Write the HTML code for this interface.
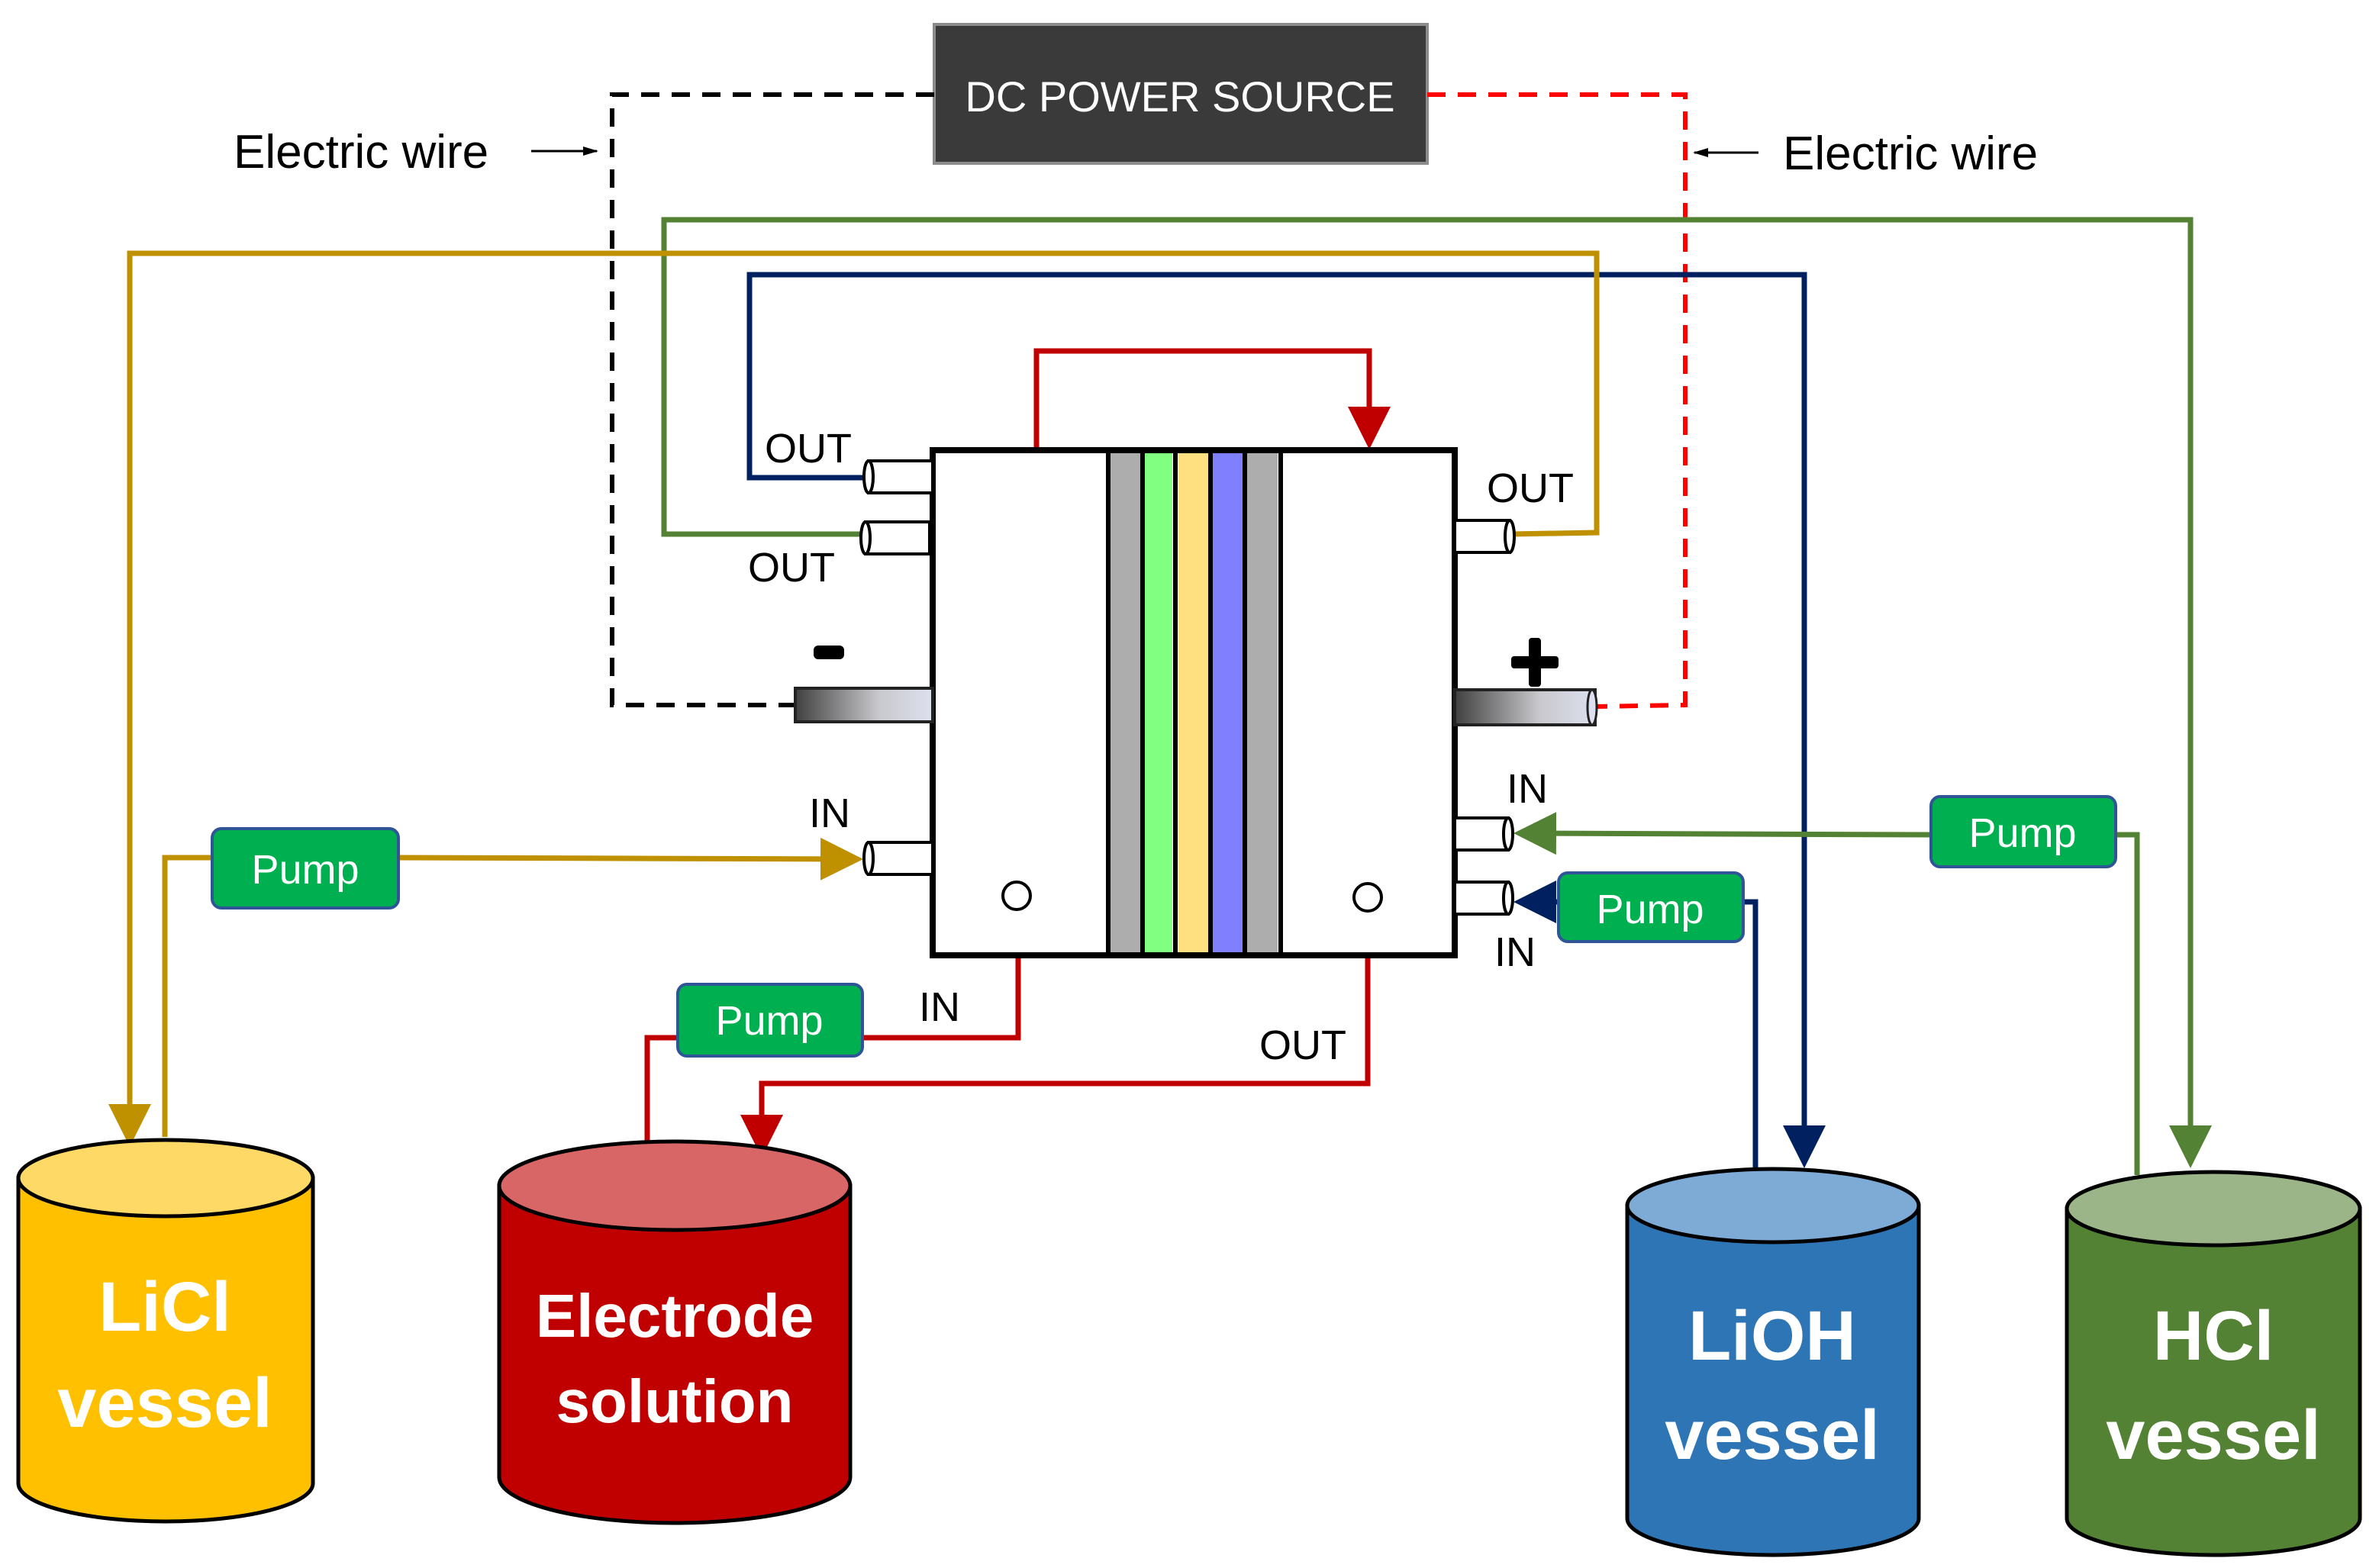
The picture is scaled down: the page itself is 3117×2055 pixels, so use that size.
<!DOCTYPE html>
<html><head><meta charset="utf-8"><style>html,body{margin:0;padding:0;background:#fff}svg{display:block}text{font-family:"Liberation Sans",sans-serif}</style></head>
<body>
<svg width="3117" height="2055" viewBox="0 0 1558.5 1027.5" xmlns="http://www.w3.org/2000/svg">
<defs>
<linearGradient id="ge" x1="0" x2="1"><stop offset="0" stop-color="#404040"/><stop offset="0.6" stop-color="#c8c8cc"/><stop offset="1" stop-color="#dde0ee"/></linearGradient>
<marker id="aN" markerWidth="8" markerHeight="8" refX="7" refY="4" orient="auto" markerUnits="strokeWidth"><path d="M0,0L8,4L0,8z" fill="#002060"/></marker>
<marker id="aG" markerWidth="8" markerHeight="8" refX="7" refY="4" orient="auto" markerUnits="strokeWidth"><path d="M0,0L8,4L0,8z" fill="#548235"/></marker>
<marker id="aY" markerWidth="8" markerHeight="8" refX="7" refY="4" orient="auto" markerUnits="strokeWidth"><path d="M0,0L8,4L0,8z" fill="#bf9000"/></marker>
<marker id="aR" markerWidth="8" markerHeight="8" refX="7" refY="4" orient="auto" markerUnits="strokeWidth"><path d="M0,0L8,4L0,8z" fill="#c00000"/></marker>
<marker id="aK" markerWidth="10" markerHeight="8" refX="9" refY="4" orient="auto" markerUnits="userSpaceOnUse"><path d="M0,1L10,4L0,7z" fill="#000"/></marker>
</defs>

<rect x="612" y="16" width="323" height="91" fill="#3a3a3a" stroke="#8c8c8c" stroke-width="2"/>
<text x="773" y="73" font-size="28" fill="#fff" text-anchor="middle">DC POWER SOURCE</text>
<polyline points="612,62 401,62 401,462 520,462" fill="none" stroke="#000" stroke-width="3" stroke-dasharray="12,8"/>
<polyline points="935,62 1104,62 1104,462 1045,463" fill="none" stroke="#ff0000" stroke-width="3" stroke-dasharray="12,8"/>
<text x="153" y="110" font-size="31" fill="#000">Electric wire</text>
<line x1="348" y1="99" x2="391" y2="99" stroke="#000" stroke-width="1.5" marker-end="url(#aK)"/>
<text x="1168" y="111" font-size="31" fill="#000">Electric wire</text>
<line x1="1152" y1="100" x2="1110" y2="100" stroke="#000" stroke-width="1.5" marker-end="url(#aK)"/>

<g fill="none" stroke-width="3.5">
<polyline points="567,313 491,313 491,180 1182,180 1182,762" stroke="#002060" marker-end="url(#aN)"/>
<polyline points="1150,768 1150,591 1143,591" stroke="#002060"/>
<line x1="1021" y1="591" x2="995" y2="591" stroke="#002060" marker-end="url(#aN)"/>
<polyline points="611,350 435,350 435,144 1435,144 1435,762" stroke="#548235" marker-end="url(#aG)"/>
<polyline points="1386,547 1400,547 1400,770" stroke="#548235"/>
<line x1="1265" y1="547" x2="995" y2="546" stroke="#548235" marker-end="url(#aG)"/>
<polyline points="990,350 1046,349 1046,166 85,166 85,748" stroke="#bf9000" marker-end="url(#aY)"/>
<polyline points="108,745 108,562 139,562" stroke="#bf9000"/>
<line x1="261" y1="562" x2="562" y2="563" stroke="#bf9000" marker-end="url(#aY)"/>
<polyline points="679,295 679,230 897,230 897,291" stroke="#c00000" marker-end="url(#aR)"/>
<polyline points="424,753 424,680 444,680" stroke="#c00000"/>
<polyline points="565,680 667,680 667,600" stroke="#c00000" marker-end="url(#aR)"/>
<polyline points="896,597 896,710 499,710 499,755" stroke="#c00000" marker-end="url(#aR)"/>
</g>

<rect x="611" y="295" width="342" height="331" fill="#fff" stroke="#000" stroke-width="4"/>
<rect x="727" y="297" width="20" height="327" fill="#adadad"/>
<rect x="750" y="297" width="18" height="327" fill="#80ff80"/>
<rect x="772" y="297" width="20" height="327" fill="#ffe080"/>
<rect x="794" y="297" width="20" height="327" fill="#8080ff"/>
<rect x="817" y="297" width="20" height="327" fill="#adadad"/>
<g stroke="#000" stroke-width="3">
<line x1="726" y1="297" x2="726" y2="624"/><line x1="748.5" y1="297" x2="748.5" y2="624"/>
<line x1="770" y1="297" x2="770" y2="624"/><line x1="793" y1="297" x2="793" y2="624"/>
<line x1="815.5" y1="297" x2="815.5" y2="624"/><line x1="839" y1="297" x2="839" y2="624"/>
</g>
<circle cx="666" cy="587" r="9" fill="#fff" stroke="#000" stroke-width="2"/>
<circle cx="896" cy="588" r="9" fill="#fff" stroke="#000" stroke-width="2"/>

<g fill="#fff" stroke="#000" stroke-width="2">
<rect x="569" y="302" width="42" height="21"/><ellipse cx="569" cy="312.5" rx="3" ry="10.5"/>
<rect x="567" y="342" width="42" height="21"/><ellipse cx="567" cy="352.5" rx="3" ry="10.5"/>
<rect x="569" y="552" width="42" height="21"/><ellipse cx="569" cy="562.5" rx="3" ry="10.5"/>
<rect x="953" y="341" width="36" height="21"/><ellipse cx="989" cy="351.5" rx="3" ry="10.5"/>
<rect x="953" y="536" width="35" height="21"/><ellipse cx="988" cy="546.5" rx="3" ry="10.5"/>
<rect x="953" y="578" width="35" height="21"/><ellipse cx="988" cy="588.5" rx="3" ry="10.5"/>
</g>
<rect x="521" y="451" width="90" height="22" fill="url(#ge)" stroke="#222" stroke-width="2"/>
<rect x="953" y="452" width="92" height="23" fill="url(#ge)" stroke="#222" stroke-width="2"/>
<ellipse cx="1043" cy="463.5" rx="3" ry="11.5" fill="#dde0ee" stroke="#222" stroke-width="1.5"/>

<g font-size="27" fill="#000">
<text x="501" y="303">OUT</text><text x="490" y="381">OUT</text>
<text x="530" y="542">IN</text><text x="602" y="669">IN</text>
<text x="974" y="329">OUT</text><text x="987" y="526">IN</text>
<text x="979" y="633">IN</text><text x="825" y="694">OUT</text>
</g>
<rect x="533" y="423" width="20" height="9" rx="3" fill="#000"/>
<rect x="990" y="430" width="31" height="8" rx="2" fill="#000"/>
<rect x="1001.5" y="418" width="8" height="32" rx="2" fill="#000"/>

<g fill="#00b050" stroke="#2f5597" stroke-width="2">
<rect x="139" y="543" width="122" height="52" rx="6"/>
<rect x="444" y="645" width="121" height="47" rx="6"/>
<rect x="1265" y="522" width="121" height="46" rx="6"/>
<rect x="1021" y="572" width="121" height="45" rx="6"/>
</g>
<g font-size="27" fill="#fff" text-anchor="middle">
<text x="200" y="579">Pump</text><text x="504" y="678">Pump</text>
<text x="1325" y="555">Pump</text><text x="1081" y="605">Pump</text>
</g>

<g stroke="#000" stroke-width="2.5">
<path d="M12,772 L12,972 A96.5,25 0 0 0 205,972 L205,772 Z" fill="#ffc000"/>
<ellipse cx="108.5" cy="772" rx="96.5" ry="25" fill="#ffd966"/>
<path d="M327,777 L327,968 A115,30 0 0 0 557,968 L557,777 Z" fill="#c00000"/>
<ellipse cx="442" cy="777" rx="115" ry="29" fill="#d96666"/>
<path d="M1066,790 L1066,995 A95.5,24 0 0 0 1257,995 L1257,790 Z" fill="#2e75b6"/>
<ellipse cx="1161.5" cy="790" rx="95.5" ry="24" fill="#7eaad6"/>
<path d="M1354,792 L1354,995 A96,24 0 0 0 1546,995 L1546,792 Z" fill="#548235"/>
<ellipse cx="1450" cy="792" rx="96" ry="24" fill="#9bb588"/>
</g>
<g fill="#fff" font-weight="bold" text-anchor="middle">
<text x="108" y="872" font-size="46">LiCl</text><text x="108" y="935" font-size="46">vessel</text>
<text x="442" y="876" font-size="40">Electrode</text><text x="442" y="932" font-size="40">solution</text>
<text x="1161" y="891" font-size="46">LiOH</text><text x="1161" y="956" font-size="46">vessel</text>
<text x="1450" y="891" font-size="46">HCl</text><text x="1450" y="956" font-size="46">vessel</text>
</g>
</svg>
</body></html>
